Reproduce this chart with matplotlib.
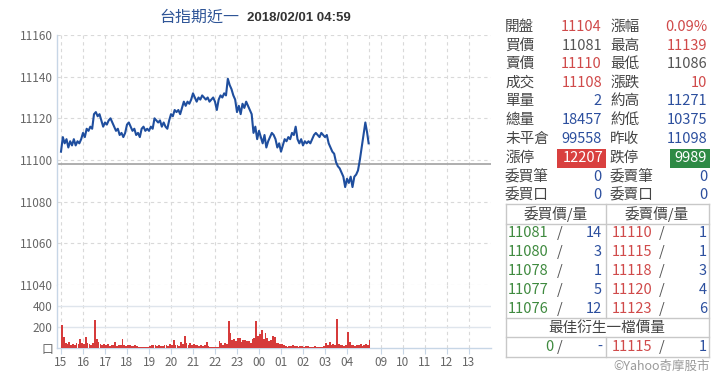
import numpy as np
import matplotlib
matplotlib.use("Agg")
import matplotlib.pyplot as plt
from matplotlib.patches import Rectangle
from matplotlib.lines import Line2D

plt.rcParams['font.family'] = ['Noto Sans CJK TC', 'DejaVu Sans']

# ---------------- data ----------------
title_main = "台指期近一"
title_time = "2018/02/01 04:59"

# price every 5 minutes from 15:00 (night session), last point at 04:59
price_5min = [
    11104, 11111, 11108, 11110, 11106, 11109, 11107, 11110, 11107, 11109,
    11108, 11110, 11113, 11111, 11115, 11114, 11116, 11115, 11122, 11123,
    11121, 11122, 11119, 11116, 11118, 11117, 11119, 11120, 11118, 11116,
    11114, 11115, 11112, 11113, 11111, 11113, 11117, 11118, 11116, 11114,
    11115, 11112, 11113, 11111, 11115, 11116, 11114, 11115, 11114, 11116,
    11115, 11120, 11119, 11118, 11119, 11116, 11118, 11116, 11115, 11119,
    11122, 11121, 11124, 11123, 11124, 11122, 11125, 11128, 11126, 11128,
    11127, 11129, 11132, 11130, 11128, 11130, 11129, 11131, 11130, 11129,
    11130, 11128, 11129, 11130, 11128, 11124, 11129, 11131, 11130, 11132,
    11131, 11139, 11136, 11134, 11131, 11129, 11123, 11126, 11122, 11127,
    11125, 11128, 11126, 11124, 11122, 11113, 11116, 11110, 11114, 11111,
    11108, 11112, 11106, 11109, 11111, 11113, 11112, 11110, 11106, 11108,
    11104, 11107, 11110, 11109, 11111, 11110, 11113, 11112, 11116, 11110,
    11108, 11110, 11107, 11109, 11108, 11109, 11108, 11110, 11112, 11113,
    11112, 11111, 11113, 11112, 11111, 11112, 11108, 11106, 11104, 11103,
    11099, 11097, 11096, 11094, 11092, 11087, 11091, 11089, 11092, 11087,
    11092, 11093, 11095, 11100, 11106, 11112, 11118, 11113, 11108,
]
volume_5min = [
    215, 108, 45, 35, 55, 30, 40, 30, 45, 35,
    90, 50, 40, 108, 45, 40, 30, 45, 268, 90,
    60, 40, 30, 35, 25, 40, 20, 30, 25, 60,
    20, 30, 25, 83, 25, 20, 30, 25, 15, 20,
    30, 15, 10, 10, 5, 8, 10, 5, 20, 30,
    25, 30, 20, 25, 15, 20, 30, 25, 20, 35,
    30, 77, 25, 30, 20, 60, 40, 114, 50, 25,
    45, 30, 35, 25, 30, 20, 25, 15, 25, 60,
    15, 8, 10, 5, 10, 8, 70, 45, 30, 50,
    40, 260, 140, 80, 90, 70, 95, 100, 60, 75,
    80, 65, 70, 50, 90, 100, 255, 110, 130, 170,
    90, 140, 100, 70, 80, 110, 108, 45, 45, 40,
    35, 30, 15, 10, 20, 15, 25, 15, 20, 10,
    20, 15, 10, 20, 15, 10, 8, 10, 15, 5,
    8, 10, 12, 20, 45, 30, 60, 25, 40, 30,
    277, 35, 30, 25, 20, 30, 154, 60, 30, 25,
    20, 30, 25, 35, 20, 30, 40, 30, 77,
]
minutes = list(range(0, 840, 5)) + [839]

prev_close = 11098
night_labels = ["15", "16", "17", "18", "19", "20", "21", "22", "23",
                "00", "01", "02", "03", "04"]
day_labels = ["09", "10", "11", "12", "13"]

info_left = [("開盤", "11104", "r"), ("買價", "11081", "g"), ("賣價", "11110", "r"),
             ("成交", "11108", "r"), ("單量", "2", "b"), ("總量", "18457", "b"),
             ("未平倉", "99558", "b"), ("漲停", "12207", "boxr"), ("委買筆", "0", "b"),
             ("委買口", "0", "b")]
info_right = [("漲幅", "0.09%", "r"), ("最高", "11139", "r"), ("最低", "11086", "g"),
              ("漲跌", "10", "r"), ("約高", "11271", "b"), ("約低", "10375", "b"),
              ("昨收", "11098", "b"), ("跌停", "9989", "boxg"), ("委賣筆", "0", "b"),
              ("委賣口", "0", "b")]
bid_prices = ["11081", "11080", "11078", "11077", "11076"]
bid_qty = ["14", "3", "1", "5", "12"]
ask_prices = ["11110", "11115", "11118", "11120", "11123"]
ask_qty = ["1", "1", "3", "4", "6"]
best_bid = ("0", "-")
best_ask = ("11115", "1")

# ---------------- figure ----------------
W, H = 720, 377
fig = plt.figure(figsize=(W / 100, H / 100), dpi=100)

def fx(x):
    return x / W

def fy(y):
    return 1 - y / H

ax_l, ax_r = 57, 491
ax_p = fig.add_axes([fx(ax_l), fy(285), fx(ax_r - ax_l), fy(35) - fy(285)])
ax_v = fig.add_axes([fx(ax_l), fy(348), fx(ax_r - ax_l), fy(285) - fy(348)])

px_per_hr = 22.0
x_left = -(61 - ax_l) / px_per_hr
x_right = (ax_r - 61) / px_per_hr
day_off = (381 - 61) / px_per_hr  # position of 09:00

xs = np.array(minutes) / 60.0
night_ticks = list(range(14))
day_ticks = [day_off + k for k in range(5)]

GRID = '#d9d9d9'
SPINE = '#c7d6e6'
TXT = '#666666'

for ax in (ax_p, ax_v):
    ax.set_xlim(x_left, x_right)
    for s in ('top', 'right'):
        ax.spines[s].set_visible(False)
    ax.spines['left'].set_color(SPINE)
    ax.spines['left'].set_linewidth(1.0)
    ax.set_xticks(night_ticks + day_ticks)
    for xv in night_ticks + [14] + day_ticks:
        ax.axvline(xv, color=GRID, lw=0.8, ls=(0, (3, 3)), zorder=0)

# price panel
ax_p.set_ylim(11040, 11160)
ax_p.set_yticks(range(11040, 11161, 20))
ax_p.tick_params(axis='y', length=0, labelsize=8.5, labelcolor=TXT, pad=3)
ax_p.tick_params(axis='x', length=0, labelbottom=False)
ax_p.spines['bottom'].set_visible(False)
for yv in range(11040, 11161, 20):
    ax_p.axhline(yv, color=GRID, lw=0.8, ls=(0, (3, 3)), zorder=0)
ax_p.axhline(prev_close, color='#a8a8a8', lw=1.3, zorder=1)
ax_p.plot(xs, price_5min, color='#1f4e9e', lw=1.5, zorder=3)

# volume panel
ax_v.set_ylim(0, 600)
ax_v.set_yticks([0, 200, 400])
ax_v.set_yticklabels(['口', '200', '400'])
ax_v.tick_params(axis='y', length=0, labelsize=8.5, labelcolor=TXT, pad=3)
ax_v.spines['bottom'].set_color(SPINE)
ax_v.spines['bottom'].set_linewidth(1.0)
ax_v.set_xticklabels(night_labels + day_labels)
ax_v.tick_params(axis='x', length=4, color=SPINE, labelsize=8.5, labelcolor=TXT, pad=2)
for yv in (200, 400):
    ax_v.axhline(yv, color='#dfe5ec', lw=1.0, zorder=0)
ax_v.bar(xs, volume_5min, width=5 / 60, align='edge', color='#d63b3b', lw=0, zorder=3)

# title
fig.text(fx(159), fy(17), title_main, color='#2f5597', fontsize=11.5,
         ha='left', va='center')
fig.text(fx(247), fy(18), title_time, color='#333333', fontsize=9.5,
         fontweight='bold', ha='left', va='center', family=['Liberation Sans', 'DejaVu Sans'])

# ---------------- right panel ----------------
RED = '#d04a4a'
BLUE = '#2c4f9e'
GRAY = '#555555'
GREEN = '#3f8a3f'
LAB = '#444444'
colmap = {'r': RED, 'g': GRAY, 'b': BLUE}
FS = 10.5
rows_y = [27, 46, 64, 83, 101, 120, 139, 158, 177, 195]

def T(x, y, s, **kw):
    kw.setdefault('fontsize', FS)
    kw.setdefault('va', 'center')
    fig.text(fx(x), fy(y), s, **kw)

def box(x0, x1, y0, y1, color):
    fig.patches.append(Rectangle((fx(x0), fy(y1)), fx(x1 - x0), fy(y0) - fy(y1),
                                 transform=fig.transFigure, facecolor=color,
                                 edgecolor='none', zorder=1))

for y, (lab, val, c) in zip(rows_y, info_left):
    T(505, y, lab, color=LAB, ha='left')
    if c == 'boxr':
        box(557, 606, y - 9.5, y + 9.5, '#d9403f')
        T(603, y, val, color='white', ha='right', zorder=2)
    else:
        T(602, y, val, color=colmap[c], ha='right')
for y, (lab, val, c) in zip(rows_y, info_right):
    T(610, y, lab, color=LAB, ha='left')
    if c == 'boxg':
        box(670, 710, y - 9.5, y + 9.5, '#2e8a45')
        T(707, y, val, color='white', ha='right', zorder=2)
    else:
        T(707, y, val, color=colmap[c], ha='right')

# order book table
BC = '#c8c8c8'
def hline(x0, x1, y):
    fig.lines.append(Line2D([fx(x0), fx(x1)], [fy(y), fy(y)], transform=fig.transFigure,
                            color=BC, lw=1.0))
def vline(x, y0, y1):
    fig.lines.append(Line2D([fx(x), fx(x)], [fy(y0), fy(y1)], transform=fig.transFigure,
                            color=BC, lw=1.0))

t_l, t_r, t_t, t_b = 506, 709, 204, 357
for y in (t_t, 224, 318, 337, t_b):
    hline(t_l, t_r, y)
vline(t_l, t_t, t_b)
vline(t_r, t_t, t_b)
vline(606, t_t, 318)
vline(606, 337, t_b)

T(556, 214, "委買價/量", color=LAB, ha='center')
T(657, 214, "委賣價/量", color=LAB, ha='center')
book_y = [233, 252, 271, 290, 309]
for y, bp, bq, ap, aq in zip(book_y, bid_prices, bid_qty, ask_prices, ask_qty):
    T(508, y, bp, color=GREEN, ha='left')
    T(560, y, "/", color=GRAY, ha='center')
    T(602, y, bq, color=BLUE, ha='right')
    T(612, y, ap, color=RED, ha='left')
    T(662, y, "/", color=GRAY, ha='center')
    T(707, y, aq, color=BLUE, ha='right')
T(607, 328, "最佳衍生一檔價量", color=LAB, ha='center')
T(553, 347, best_bid[0], color=GREEN, ha='right')
T(560, 347, "/", color=GRAY, ha='center')
T(602, 347, best_bid[1], color=BLUE, ha='right')
T(612, 347, best_ask[0], color=RED, ha='left')
T(662, 347, "/", color=GRAY, ha='center')
T(707, 347, best_ask[1], color=BLUE, ha='right')
T(710, 366, "©Yahoo奇摩股市", color='#9a9a9a', ha='right', fontsize=9)

fig.savefig("out.png", dpi=100)
